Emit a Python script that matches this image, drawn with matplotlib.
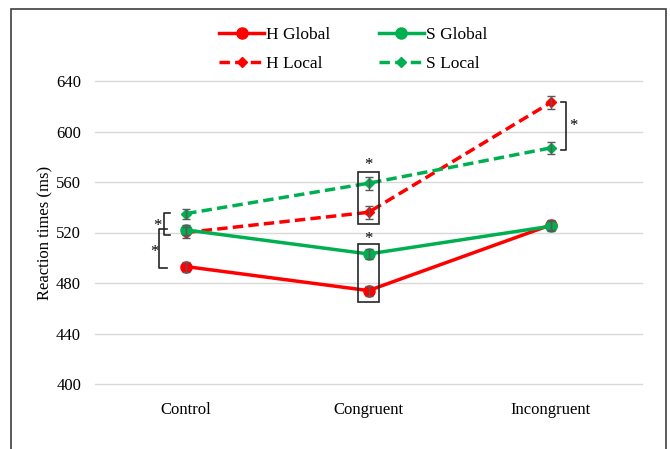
import matplotlib.pyplot as plt
from matplotlib.patches import Rectangle

plt.rcParams['font.family'] = ['Liberation Serif', 'DejaVu Serif']

conditions = ['Control', 'Congruent', 'Incongruent']
h_global = [493, 474, 526]
s_global = [522, 503, 525]
h_local = [520, 536, 623]
s_local = [535, 559, 587]
h_global_err = [4, 4, 4]
s_global_err = [4, 4, 4]
h_local_err = [4, 5, 5]
s_local_err = [4, 5, 5]

red = '#FF0000'
green = '#00B050'
x = list(range(len(conditions)))

fig = plt.figure(figsize=(6.7, 4.49), dpi=100)
ax = fig.add_axes([95 / 670, 65 / 449, 547 / 670, 303 / 449])

series = [
    ('H Global', h_global, h_global_err, red, '-', 'o', 8),
    ('H Local', h_local, h_local_err, red, (0, (3, 1.5)), 'D', 5.5),
    ('S Global', s_global, s_global_err, green, '-', 'o', 8),
    ('S Local', s_local, s_local_err, green, (0, (3, 1.5)), 'D', 5.5),
]
handles = []
for name, vals, err, col, ls, mk, ms in series:
    ax.errorbar(x, vals, yerr=err, fmt='none', ecolor='#595959',
                elinewidth=1, capsize=3, capthick=1, zorder=4)
    ln, = ax.plot(x, vals, color=col, linestyle=ls, linewidth=2.5,
                  marker=mk, markersize=ms, label=name, zorder=3)
    handles.append(ln)

ax.set_xlim(-0.5, 2.5)
ax.set_ylim(400, 640)
ax.set_yticks(range(400, 641, 40))
ax.set_xticks(x)
ax.set_xticklabels(conditions, fontsize=12)
ax.tick_params(axis='y', labelsize=12, length=0, pad=10)
ax.tick_params(axis='x', length=0, pad=13)
ax.grid(axis='y', color='#d9d9d9', linewidth=1)
for gl in ax.get_ygridlines():
    gl.set_clip_on(False)
ax.set_axisbelow(True)
for s in ax.spines.values():
    s.set_visible(False)
ax.set_ylabel('Reaction times (ms)', fontsize=12, labelpad=2)

# significance marks
ax.add_patch(Rectangle((0.945, 526.7), 0.11, 41.5, fill=False, ec='#262626', lw=1.2, zorder=5))
ax.add_patch(Rectangle((0.945, 465.2), 0.11, 45.7, fill=False, ec='#262626', lw=1.2, zorder=5))
ax.text(1.0, 567, '*', ha='center', va='bottom', fontsize=12)
ax.text(1.0, 508.5, '*', ha='center', va='bottom', fontsize=12)

ax.plot([-0.088, -0.122, -0.122, -0.088], [535.2, 535.2, 518, 518], color='#262626', lw=1.2)
ax.plot([-0.105, -0.151, -0.151, -0.105], [522.8, 522.8, 491.9, 491.9], color='#262626', lw=1.2)
ax.text(-0.157, 525.2, '*', ha='center', va='center', fontsize=12)
ax.text(-0.177, 504.6, '*', ha='center', va='center', fontsize=12)

ax.plot([2.055, 2.085, 2.085, 2.055], [623, 623, 585, 585], color='#262626', lw=1.2)
ax.text(2.125, 604.6, '*', ha='center', va='center', fontsize=12)

fig.legend(handles=handles, ncol=2, frameon=False, loc='center',
           bbox_to_anchor=(0.527, 0.89), fontsize=12.5, handlelength=2.6,
           columnspacing=2.8, labelspacing=0.75, handletextpad=0.1)

fig.patches.append(Rectangle((11 / 670, -0.1), 655 / 670, 1.1 - 9 / 449,
                             transform=fig.transFigure, fill=False,
                             ec='#404040', lw=1.2))

fig.savefig('out.png', dpi=100)
